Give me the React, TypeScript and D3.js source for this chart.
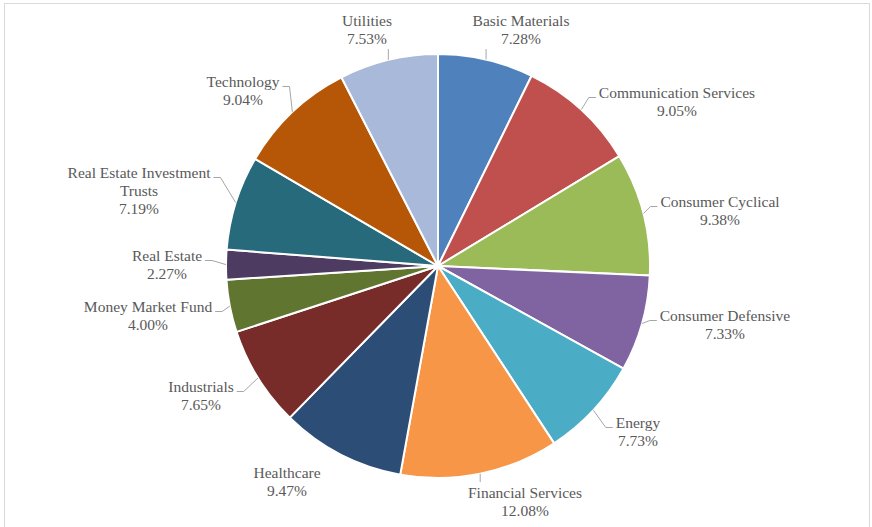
import React, { useMemo } from "react";
import * as d3 from "d3";

// Sector weights of the portfolio, clockwise from 12 o'clock
const categories = [
  "Basic Materials",
  "Communication Services",
  "Consumer Cyclical",
  "Consumer Defensive",
  "Energy",
  "Financial Services",
  "Healthcare",
  "Industrials",
  "Money Market Fund",
  "Real Estate",
  "Real Estate Investment Trusts",
  "Technology",
  "Utilities",
];

const shares = [7.28, 9.05, 9.38, 7.33, 7.73, 12.08, 9.47, 7.65, 4.0, 2.27, 7.19, 9.04, 7.53];

const sliceColors = [
  "#4F81BD",
  "#C0504D",
  "#9BBB59",
  "#8064A2",
  "#4BACC6",
  "#F79646",
  "#2C4D75",
  "#772C2A",
  "#5F7530",
  "#4D3B62",
  "#276A7C",
  "#B65708",
  "#A9B9D9",
];

// Label placement (first-line centre, relative to the pie centre)
const labelOffsets: [number, number][] = [
  [83, -245],
  [239, -173],
  [282, -64],
  [287, 50],
  [200, 157],
  [87, 227],
  [-151, 207],
  [-237, 121],
  [-290, 41],
  [-271, -10],
  [-299, -93],
  [-195, -184],
  [-71, -245],
];
const drawLeader = [true, true, true, true, true, true, false, true, true, true, true, true, true];

const WIDTH = 872;
const HEIGHT = 527;
const CX = 438;
const CY = 266;
const RADIUS = 212;
const FONT_SIZE = 15.5;
const LINE_H = 18;
const FONT = `${FONT_SIZE}px "Liberation Serif", "Times New Roman", serif`;
const TEXT_COLOR = "#595959";
const LEADER_COLOR = "#A6A6A6";

function wrapName(name: string, maxChars = 24): string[] {
  if (name.length <= maxChars) return [name];
  const words = name.split(" ");
  const lines: string[] = [];
  let cur = "";
  for (const w of words) {
    const next = cur ? cur + " " + w : w;
    if (next.length > 22 && cur) {
      lines.push(cur);
      cur = w;
    } else cur = next;
  }
  if (cur) lines.push(cur);
  return lines;
}

export default function App() {
  const pieData = useMemo(
    () =>
      d3
        .pie<number>()
        .sort(null)
        .value((d) => d)(shares),
    []
  );

  const arcGen = useMemo(
    () => d3.arc<d3.PieArcDatum<number>>().innerRadius(0).outerRadius(RADIUS),
    []
  );

  const measure = useMemo(() => {
    const ctx = document.createElement("canvas").getContext("2d");
    if (ctx) ctx.font = FONT;
    return (s: string) => (ctx ? ctx.measureText(s).width : s.length * 7.5);
  }, []);

  const labels = pieData.map((d, i) => {
    const lines = [...wrapName(categories[i]), `${shares[i].toFixed(2)}%`];
    const [ox, oy] = labelOffsets[i];
    const lx = CX + ox;
    const firstY = CY + oy;
    const widths = lines.map(measure);
    const maxW = Math.max(...widths);
    const left = lx - maxW / 2;
    const right = lx + maxW / 2;
    const top = firstY - 9;
    const bottom = firstY + (lines.length - 1) * LINE_H + 8;
    const mid = (d.startAngle + d.endAngle) / 2;
    const ex = CX + RADIUS * Math.sin(mid);
    const ey = CY - RADIUS * Math.cos(mid);

    let path = "";
    if (drawLeader[i]) {
      if (ex >= left && ex <= right) {
        // label sits above or below the slice: straight drop to the rim
        const sy = ey < top ? top - 2 : bottom + 2;
        path = d3.line()([
          [ex, sy],
          [ex, ey],
        ]) as string;
      } else if (right < ex) {
        const sy = firstY + 4.5;
        const sx = right + 3;
        path = d3.line()([
          [sx, sy],
          [sx + 7, sy],
          [ex, ey],
        ]) as string;
      } else {
        const sy = firstY + 4.5;
        const sx = left - 3;
        path = d3.line()([
          [sx, sy],
          [sx - 7, sy],
          [ex, ey],
        ]) as string;
      }
    }
    return { lines, lx, firstY, path };
  });

  return (
    <svg
      width={WIDTH}
      height={HEIGHT}
      style={{ position: "absolute", left: 0, top: 0, background: "#fff" }}
    >
      <rect x={4.5} y={3.5} width={865} height={540} fill="#fff" stroke="#D9D9D9" strokeWidth={1} />
      <g transform={`translate(${CX},${CY})`}>
        {pieData.map((d, i) => (
          <path
            key={categories[i]}
            d={arcGen(d) as string}
            fill={sliceColors[i]}
            stroke="#fff"
            strokeWidth={2}
            strokeLinejoin="round"
          />
        ))}
      </g>
      <g>
        {labels.map((l, i) =>
          l.path ? (
            <path key={"leader" + i} d={l.path} fill="none" stroke={LEADER_COLOR} strokeWidth={1} />
          ) : null
        )}
      </g>
      <g fontFamily='"Liberation Serif", "Times New Roman", serif' fontSize={FONT_SIZE} fill={TEXT_COLOR}>
        {labels.map((l, i) => (
          <text key={"label" + i} textAnchor="middle">
            {l.lines.map((s, j) => (
              <tspan key={j} x={l.lx} y={l.firstY + j * LINE_H + 5}>
                {s}
              </tspan>
            ))}
          </text>
        ))}
      </g>
    </svg>
  );
}
